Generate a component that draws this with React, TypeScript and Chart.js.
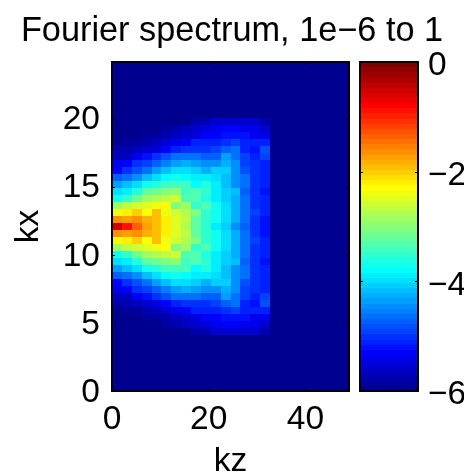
import React, { useEffect, useRef } from "react";
import { Chart, registerables } from "chart.js";

Chart.register(...registerables);

const titleText = "Fourier spectrum, 1e\u22126 to 1";
const xLabel = "kz";
const yLabel = "kx";
const kzMax = 49;
const kxMax = 24.15;
const kzStep = 49 / 24;
const kxStep = 24.15 / 47;
const firstRowIndex = 8;
const floorValue = -6;
const ceilValue = 0;
const colorLevels = 64;

const row08 = [-6, -6, -6, -6, -6, -6, -6, -6, -5.75, -5.75, -5.55, -5.55, -5.55, -5.55, -5.55, -5.75];
const row09 = [-5.98, -5.98, -5.95, -5.95, -5.92, -5.9, -5.8, -5.7, -5.62, -5.47, -5.37, -5.3, -5.33, -5.4, -5.4, -5.6];
const row10 = [-5.95, -5.95, -5.92, -5.9, -5.85, -5.75, -5.65, -5.55, -5.48, -5.33, -5.3, -5.2, -5.18, -5.22, -5.43, -5.4];
const row11 = [-5.92, -5.88, -5.85, -5.8, -5.65, -5.55, -5.35, -5.3, -5.15, -5.1, -5.1, -5.05, -4.95, -5.1, -5.1, -5.1];
const row12 = [-5.8, -5.78, -5.65, -5.55, -5.45, -5.3, -5.1, -5, -5.05, -5, -4.95, -4.75, -4.65, -5.1, -5.25, -4.85];
const row13 = [-5.7, -5.65, -5.4, -5.2, -5.05, -4.85, -4.6, -4.65, -4.65, -4.7, -4.75, -4.4, -4.6, -4.95, -5.15, -4.9];
const row14 = [-5.4, -5.3, -5.05, -4.95, -4.75, -4.55, -4.35, -4.25, -4.35, -4.45, -4.5, -4.25, -4.5, -4.95, -5.05, -5.1];
const row15 = [-5.3, -5.05, -4.8, -4.6, -4.4, -4.15, -4, -3.95, -4.05, -4.3, -4.1, -4.05, -4.5, -4.85, -5, -5.1];
const row16 = [-4.7, -4.6, -4.45, -4.2, -3.95, -3.8, -3.75, -3.78, -3.85, -3.9, -3.95, -4.15, -4.5, -4.6, -5, -5.1];
const row17 = [-4.4, -4.2, -3.95, -3.75, -3.6, -3.4, -3.4, -3.4, -3.8, -3.65, -3.85, -4.15, -4.5, -4.65, -5, -5.1];
const row18 = [-4, -3.85, -3.6, -3.25, -3.15, -3.05, -3, -3.4, -3.3, -3.55, -3.9, -4.1, -4.2, -4.75, -5, -5.25];
const row19 = [-3.75, -3.5, -3.1, -2.85, -2.8, -2.7, -2.6, -3.3, -3.3, -3.6, -3.85, -4.05, -4.3, -4.6, -5, -5.15];
const row20 = [-2.85, -2.7, -2.55, -2.45, -2.4, -2.3, -3.05, -2.85, -3.5, -3.3, -3.75, -4, -4.3, -4.6, -5, -5.15];
const row21 = [-2.4, -2.25, -2.05, -2.3, -1.95, -2.4, -2.55, -2.8, -3.05, -3.5, -3.75, -4, -4.25, -4.6, -4.95, -5.1];
const row22 = [-1.6, -1.75, -1.65, -1.85, -1.95, -2.2, -2.45, -2.7, -3.2, -3.5, -3.75, -4, -4.3, -4.65, -5, -5.2];
const row23 = [-0.55, -0.87, -1.4, -1.75, -1.9, -2.2, -2.45, -2.8, -3.25, -3.5, -3.85, -4.1, -4.45, -4.75, -5.05, -5.25];
const row24 = [-1.6, -1.75, -1.65, -1.85, -1.95, -2.2, -2.45, -2.7, -3.2, -3.5, -3.75, -4, -4.3, -4.65, -5, -5.2];
const row25 = [-2.4, -2.25, -2.05, -2.3, -1.95, -2.4, -2.55, -2.8, -3.05, -3.5, -3.75, -4, -4.25, -4.6, -4.95, -5.1];
const row26 = [-2.85, -2.7, -2.55, -2.45, -2.4, -2.3, -3.05, -2.85, -3.5, -3.3, -3.75, -4, -4.3, -4.6, -5, -5.15];
const row27 = [-3.75, -3.5, -3.1, -2.85, -2.8, -2.7, -2.6, -3.3, -3.3, -3.6, -3.85, -4.05, -4.3, -4.6, -5, -5.15];
const row28 = [-4, -3.85, -3.6, -3.25, -3.15, -3.05, -3, -3.4, -3.3, -3.55, -3.9, -4.1, -4.2, -4.75, -5, -5.25];
const row29 = [-4.4, -4.2, -3.95, -3.75, -3.6, -3.4, -3.4, -3.4, -3.8, -3.65, -3.85, -4.15, -4.5, -4.65, -5, -5.1];
const row30 = [-4.7, -4.6, -4.45, -4.2, -3.95, -3.8, -3.75, -3.78, -3.85, -3.9, -3.95, -4.15, -4.5, -4.6, -5, -5.1];
const row31 = [-5.3, -5.05, -4.8, -4.6, -4.4, -4.15, -4, -3.95, -4.05, -4.3, -4.1, -4.05, -4.5, -4.85, -5, -5.1];
const row32 = [-5.4, -5.3, -5.05, -4.95, -4.75, -4.55, -4.35, -4.25, -4.35, -4.45, -4.5, -4.25, -4.5, -4.95, -5.05, -5.1];
const row33 = [-5.7, -5.65, -5.4, -5.2, -5.05, -4.85, -4.6, -4.65, -4.65, -4.7, -4.75, -4.4, -4.6, -4.95, -5.15, -4.9];
const row34 = [-5.8, -5.78, -5.65, -5.55, -5.45, -5.3, -5.1, -5, -5.05, -5, -4.95, -4.75, -4.65, -5.1, -5.25, -4.85];
const row35 = [-5.92, -5.88, -5.85, -5.8, -5.65, -5.55, -5.35, -5.3, -5.15, -5.1, -5.1, -5.05, -4.95, -5.1, -5.1, -5.1];
const row36 = [-5.95, -5.95, -5.92, -5.9, -5.85, -5.75, -5.65, -5.55, -5.48, -5.33, -5.3, -5.2, -5.18, -5.22, -5.43, -5.4];
const row37 = [-5.98, -5.98, -5.95, -5.95, -5.92, -5.9, -5.8, -5.7, -5.62, -5.47, -5.37, -5.3, -5.33, -5.4, -5.4, -5.6];
const row38 = [-6, -6, -6, -6, -6, -6, -6, -6, -5.75, -5.75, -5.55, -5.55, -5.55, -5.55, -5.55, -5.75];

const spectrumRows = [
  row08, row09, row10, row11, row12, row13, row14, row15, row16, row17, row18,
  row19, row20, row21, row22, row23, row24, row25, row26, row27, row28, row29,
  row30, row31, row32, row33, row34, row35, row36, row37, row38,
];

function jet(level: number): string {
  const t = level / colorLevels;
  const c = (v: number) => Math.round(255 * Math.max(0, Math.min(1, v)));
  const r = c(Math.min(4 * t - 1.5, -4 * t + 4.5));
  const g = c(Math.min(4 * t - 0.5, -4 * t + 3.5));
  const b = c(Math.min(4 * t + 0.5, -4 * t + 2.5));
  return `rgb(${r},${g},${b})`;
}

function colorFor(v: number): string {
  const frac = (v - floorValue) / (ceilValue - floorValue);
  const level = Math.max(1, Math.min(colorLevels, Math.floor(frac * colorLevels) + 1));
  return jet(level);
}

const cellPoints = spectrumRows.flatMap((row, r) =>
  row.map((v, c) => ({ x: c * kzStep, y: (r + firstRowIndex) * kxStep, v }))
);
const colorbarPoints = Array.from({ length: colorLevels }, (_, i) => ({
  x: 0,
  y: floorValue + (i * (ceilValue - floorValue)) / colorLevels,
  v: floorValue + ((i + 0.5) * (ceilValue - floorValue)) / colorLevels,
}));

const FONT = "'Liberation Sans', Arial, sans-serif";
const BAR_LEFT = 360;
const BAR_RIGHT = 418;
const TICK = 3;

const heatPlugin = {
  id: "heat",
  beforeDatasetsDraw(chart: any) {
    const { ctx, chartArea: a, scales } = chart;
    const { x, y, y2 } = scales;
    ctx.save();
    ctx.fillStyle = colorFor(floorValue);
    ctx.fillRect(a.left, a.top, a.right - a.left, a.bottom - a.top);

    for (const p of chart.data.datasets[0].data) {
      const x0 = Math.round(x.getPixelForValue(p.x));
      const x1 = Math.round(x.getPixelForValue(p.x + kzStep));
      const y0 = Math.round(y.getPixelForValue(p.y + kxStep));
      const y1 = Math.round(y.getPixelForValue(p.y));
      ctx.fillStyle = colorFor(p.v);
      ctx.fillRect(x0, y0, x1 - x0, y1 - y0);
    }
    const step = (ceilValue - floorValue) / colorLevels;
    for (const p of chart.data.datasets[1].data) {
      const y0 = Math.round(y2.getPixelForValue(p.y + step));
      const y1 = Math.round(y2.getPixelForValue(p.y));
      ctx.fillStyle = colorFor(p.v);
      ctx.fillRect(BAR_LEFT, y0, BAR_RIGHT - BAR_LEFT, y1 - y0);
    }

    ctx.strokeStyle = "#000";
    ctx.lineWidth = 2;
    ctx.strokeRect(a.left, a.top, a.right - a.left, a.bottom - a.top);
    ctx.strokeRect(BAR_LEFT, a.top, BAR_RIGHT - BAR_LEFT, a.bottom - a.top);

    ctx.lineWidth = 1;
    ctx.beginPath();
    for (const t of x.ticks) {
      const px = Math.round(x.getPixelForValue(t.value)) + 0.5;
      ctx.moveTo(px, a.bottom);
      ctx.lineTo(px, a.bottom - TICK);
      ctx.moveTo(px, a.top);
      ctx.lineTo(px, a.top + TICK);
    }
    for (const t of y.ticks) {
      const py = Math.round(y.getPixelForValue(t.value)) + 0.5;
      ctx.moveTo(a.left, py);
      ctx.lineTo(a.left + TICK, py);
      ctx.moveTo(a.right, py);
      ctx.lineTo(a.right - TICK, py);
    }
    for (const t of y2.ticks) {
      const py = Math.round(y2.getPixelForValue(t.value)) + 0.5;
      ctx.moveTo(BAR_LEFT, py);
      ctx.lineTo(BAR_LEFT + TICK, py);
      ctx.moveTo(BAR_RIGHT, py);
      ctx.lineTo(BAR_RIGHT - TICK, py);
    }
    ctx.stroke();
    ctx.restore();
  },
};

function zeroPadding(s: any) {
  s.paddingTop = 0;
  s.paddingBottom = 0;
  s.paddingLeft = 0;
  s.paddingRight = 0;
}

export default function App() {
  const ref = useRef<HTMLCanvasElement>(null);
  useEffect(() => {
    const tickFont = { family: FONT, size: 33.5, lineHeight: 1.2 };
    const chart = new Chart(ref.current!, {
      type: "scatter",
      data: {
        datasets: [
          { label: "spectrum", data: cellPoints as any, pointRadius: 0, xAxisID: "x", yAxisID: "y" },
          { label: "colorbar", data: colorbarPoints as any, pointRadius: 0, xAxisID: "x", yAxisID: "y2" },
        ],
      },
      options: {
        responsive: false,
        animation: false,
        events: [],
        layout: { padding: { left: 0, right: 10, top: 0, bottom: 0 } },
        plugins: {
          legend: { display: false },
          tooltip: { enabled: false },
          title: {
            display: true,
            text: titleText,
            color: "#000",
            font: { family: FONT, size: 34.3, weight: "normal", lineHeight: 1.2 },
            padding: { top: 11, bottom: 9.84 },
          },
        },
        scales: {
          x: {
            type: "linear",
            min: 0,
            max: kzMax,
            grid: { display: false, drawTicks: false },
            border: { display: false },
            ticks: { stepSize: 20, includeBounds: false, autoSkip: false, maxRotation: 0, color: "#000", font: tickFont, padding: 9 },
            title: { display: true, text: xLabel, color: "#000", font: tickFont, padding: { top: 0, bottom: -6 } },
            afterFit(s: any) { s.height = 85; zeroPadding(s); },
          },
          y: {
            type: "linear",
            min: 0,
            max: kxMax,
            grid: { display: false, drawTicks: false },
            border: { display: false },
            ticks: { stepSize: 5, includeBounds: false, autoSkip: false, color: "#000", font: tickFont, padding: 12, labelOffset: 1.5 },
            title: { display: true, text: yLabel, color: "#000", font: tickFont, padding: { top: 9, bottom: 0 } },
            afterFit(s: any) { s.width = 112; zeroPadding(s); },
          },
          y2: {
            type: "linear",
            position: "right",
            min: floorValue,
            max: ceilValue,
            grid: { display: false, drawTicks: false },
            border: { display: false },
            ticks: {
              stepSize: 2,
              autoSkip: false,
              color: "#000",
              font: tickFont,
              padding: 79,
              labelOffset: 4,
              callback: (v: any) => String(v).replace("-", "\u2212"),
            },
            afterFit(s: any) { s.width = 115; zeroPadding(s); },
          },
        },
      } as any,
      plugins: [heatPlugin as any],
    });
    return () => chart.destroy();
  }, []);
  return (
    <div style={{ position: "fixed", left: 0, top: 0, width: 474, height: 476, background: "#fff" }}>
      <canvas ref={ref} width={474} height={476} style={{ display: "block" }} />
    </div>
  );
}
